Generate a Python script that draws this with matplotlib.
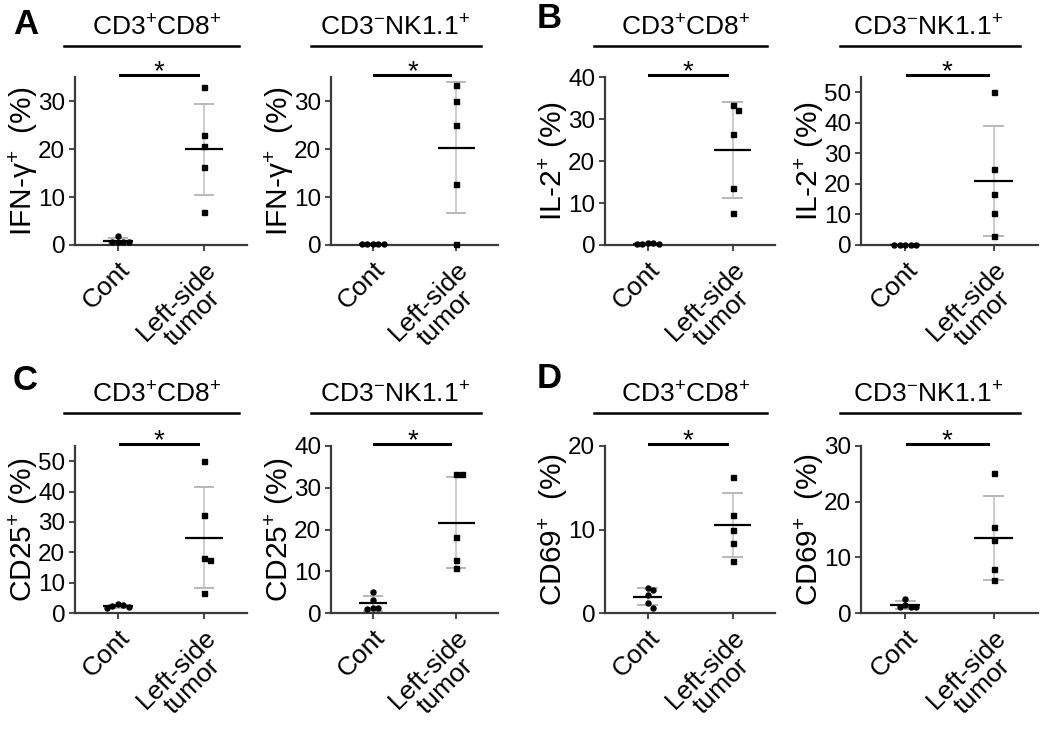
import numpy as np
import matplotlib
matplotlib.use("Agg")
import matplotlib.pyplot as plt

plt.rcParams['font.family'] = ['Liberation Sans', 'DejaVu Sans']
plt.rcParams['mathtext.fontset'] = 'custom'
plt.rcParams['mathtext.rm'] = 'Liberation Sans'
plt.rcParams['mathtext.it'] = 'Liberation Sans:italic'
plt.rcParams['mathtext.bf'] = 'Liberation Sans:bold'

# ---------------- data ----------------
groups = ["Cont", "Left-side\ntumor"]

ifng_cd8_cont = [1.8, 0.7, 0.6, 0.6, 0.7]
ifng_cd8_tumor = [33.0, 22.9, 20.6, 16.2, 6.9]
ifng_nk_cont = [0.3, 0.3, 0.3, 0.3, 0.3]
ifng_nk_tumor = [33.4, 29.9, 25.1, 12.7, 0.2]

il2_cd8_cont = [0.5, 0.3, 0.2, 0.2, 0.4]
il2_cd8_tumor = [33.4, 32.2, 26.4, 13.6, 7.6]
il2_nk_cont = [0.1, 0.1, 0.1, 0.1, 0.1]
il2_nk_tumor = [50.0, 24.8, 16.8, 10.4, 2.8]

cd25_cd8_cont = [2.8, 1.9, 2.4, 1.5, 2.5]
cd25_cd8_tumor = [50.0, 32.3, 18.2, 17.3, 6.5]
cd25_nk_cont = [5.0, 3.2, 1.2, 1.0, 1.2]
cd25_nk_tumor = [33.2, 33.2, 18.2, 12.6, 10.8]

cd69_cd8_cont = [2.8, 3.0, 2.2, 1.2, 0.6]
cd69_cd8_tumor = [16.3, 11.7, 9.9, 8.4, 6.2]
cd69_nk_cont = [2.6, 1.5, 1.0, 1.0, 1.0]
cd69_nk_tumor = [25.1, 15.5, 13.1, 7.9, 5.9]

cd8_title = r"CD3$^{+}$CD8$^{+}$"
nk_title = r"CD3$^{-}$NK1.1$^{+}$"

panels = [
    # letter, title, ylabel, cont, tumor, ymax, ytick step
    ("A", cd8_title, r"IFN-γ$^{+}$  (%)", ifng_cd8_cont, ifng_cd8_tumor, 35, 10),
    (None, nk_title, r"IFN-γ$^{+}$  (%)", ifng_nk_cont, ifng_nk_tumor, 35, 10),
    ("B", cd8_title, r"IL-2$^{+}$ (%)", il2_cd8_cont, il2_cd8_tumor, 40, 10),
    (None, nk_title, r"IL-2$^{+}$ (%)", il2_nk_cont, il2_nk_tumor, 55, 10),
    ("C", cd8_title, r"CD25$^{+}$ (%)", cd25_cd8_cont, cd25_cd8_tumor, 55, 10),
    (None, nk_title, r"CD25$^{+}$ (%)", cd25_nk_cont, cd25_nk_tumor, 40, 10),
    ("D", cd8_title, r"CD69$^{+}$  (%)", cd69_cd8_cont, cd69_cd8_tumor, 20, 10),
    (None, nk_title, r"CD69$^{+}$  (%)", cd69_nk_cont, cd69_nk_tumor, 30, 10),
]

W, H = 1050, 729
fig = plt.figure(figsize=(W / 100, H / 100), dpi=100)

col_px = [(75, 172), (331, 167), (605, 170), (861, 177)]
row_px = [(77, 245), (446, 613)]
letter_pos = {"A": (13, 24), "B": (537, 18), "C": (13, 381), "D": (537, 378)}

spine_col = "#3a3a3a"


def swarm(ax, xc, vals, min_d=5.2, step=5.5):
    """Spread overlapping points horizontally (beeswarm style)."""
    order = np.argsort(vals)[::-1]
    placed = []
    xs = np.zeros(len(vals))
    cands = [0.0]
    for j in range(1, 10):
        cands += [j * step, -j * step]
    for i in order:
        px, py = ax.transData.transform((xc, vals[i]))
        for c in cands:
            if all(np.hypot(px + c - qx, py - qy) >= min_d for (qx, qy) in placed):
                break
        placed.append((px + c, py))
        xs[i] = ax.transData.inverted().transform((px + c, py))[0]
    return xs


for idx, (letter, title, ylab, cont, tumor, ymax, ystep) in enumerate(panels):
    r, c = divmod(idx, 4)
    x0, wpx = col_px[c]
    ytop, ybot = row_px[r]
    ax = fig.add_axes([x0 / W, (H - ybot) / H, wpx / W, (ybot - ytop) / H])
    ax.set_xlim(-0.5, 1.5)
    ax.set_ylim(0, ymax)
    ax.set_yticks(np.arange(0, ymax + 0.1, ystep))
    ax.set_xticks([0, 1])
    ax.set_xticklabels(groups, rotation=45, ha="right", va="top",
                       rotation_mode="anchor", fontsize=19, multialignment="center",
                       linespacing=0.95)
    ax.tick_params(axis="y", labelsize=17.5, length=4, width=1.3, color=spine_col, pad=3)
    ax.tick_params(axis="x", length=4, width=1.3, color=spine_col, pad=5)
    for s in ["top", "right"]:
        ax.spines[s].set_visible(False)
    for s in ["left", "bottom"]:
        ax.spines[s].set_color(spine_col)
        ax.spines[s].set_linewidth(1.6)
    ax.set_ylabel(ylab, fontsize=21.5, labelpad=-1)

    for xc, vals, mk, hw in [(0, cont, "o", 0.17), (1, tumor, "s", 0.22)]:
        vals = np.asarray(vals, dtype=float)
        m = vals.mean()
        sd = vals.std(ddof=1)
        ax.vlines(xc, m - sd, m + sd, color="#c4c4c4", lw=1.2, zorder=2)
        ax.hlines([m - sd, m + sd], xc - 0.12, xc + 0.12, color="#b8b8b8", lw=1.4, zorder=2)
        ax.hlines(m, xc - hw, xc + hw, color="black", lw=1.6, zorder=3)
        xs = swarm(ax, xc, vals)
        ax.plot(xs, vals, ls="none", marker=mk, ms=3.6, color="black", zorder=4,
                clip_on=False)

    # significance bar + asterisk
    xt = ax.get_xaxis_transform()
    ax.plot([0.02, 0.93], [1.012, 1.012], color="black", lw=2.2,
            transform=xt, clip_on=False)
    ax.text(0.475, 0.985, "*", transform=xt, ha="center",
            va="baseline", fontsize=20)

    # header line + title
    hdr_y = 1.0 + ((ytop - (46 if r == 0 else 413)) / (ybot - ytop))
    if c % 2 == 0:
        lx0, lx1, tx = -0.63, 1.41, 0.45
    else:
        lx0, lx1, tx = -0.74, 1.30, 0.26
    ax.plot([lx0, lx1], [hdr_y, hdr_y], color="black", lw=1.8,
            transform=xt, clip_on=False)
    ax.text(tx, hdr_y + 0.035, title, transform=xt,
            ha="center", va="bottom", fontsize=19)

    if letter:
        lx, ly = letter_pos[letter]
        fig.text(lx / W, 1 - ly / H, letter,
                 fontsize=25, fontweight="bold", ha="left", va="center")

fig.savefig("out.png", dpi=100)
